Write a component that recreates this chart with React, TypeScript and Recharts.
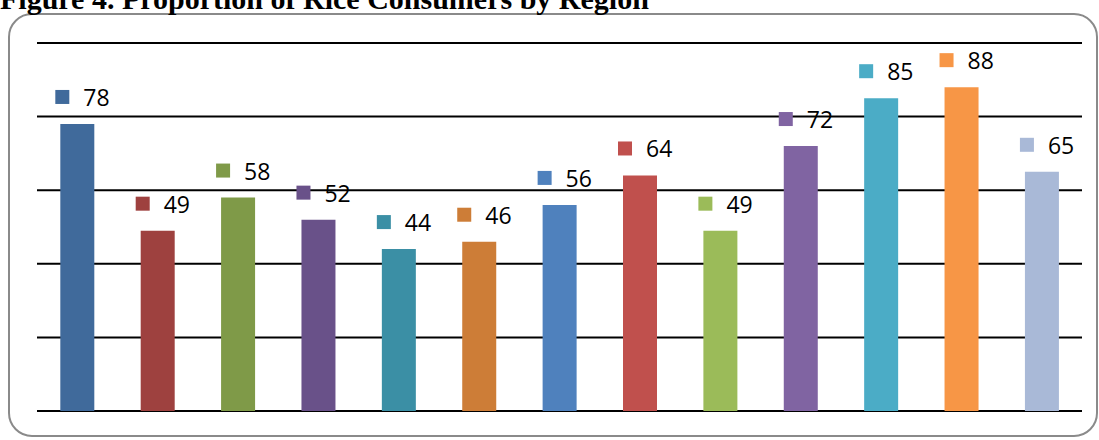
import { BarChart, Bar, XAxis, YAxis, CartesianGrid, Cell, LabelList } from "recharts";

const regions = ["R1", "R2", "R3", "R4", "R5", "R6", "R7", "R8", "R9", "R10", "R11", "R12", "R13"];
const shares = [78, 49, 58, 52, 44, 46, 56, 64, 49, 72, 85, 88, 65];
const colors = [
  "#406A9B", "#9E413F", "#7F9A48", "#695189", "#3B8FA5", "#CD7D37", "#4F81BD",
  "#C0504D", "#9BBB59", "#8064A2", "#4BACC6", "#F79646", "#A9B9D7",
];
const yTicks = [0, 20, 40, 60, 80, 100];

const data = regions.map((r, i) => ({ region: r, value: shares[i], color: colors[i] }));

function ValueLabel(props: any) {
  const { x, y, width, value, index } = props;
  const cx = x + width / 2;
  const cy = y - 27;
  return (
    <g>
      <rect x={cx - 22} y={cy - 7} width={14} height={14} fill={colors[index]} />
      <text
        x={cx + 6}
        y={cy}
        dominantBaseline="central"
        fontSize={23}
        fontFamily="'Open Sans', sans-serif"
        fill="#000"
      >
        {value}
      </text>
    </g>
  );
}

export default function App() {
  return (
    <div style={{ position: "absolute", left: 0, top: 0, width: 1099, height: 440, background: "#fff", overflow: "hidden" }}>
      <div
        style={{
          position: "absolute",
          left: 8,
          top: 13,
          width: 1086,
          height: 420,
          border: "2px solid #8a8a8a",
          borderRadius: 24,
        }}
      />
      <div
        style={{
          position: "absolute",
          left: 0,
          top: -16,
          fontFamily: "'Liberation Serif', serif",
          fontWeight: "bold",
          fontSize: 30,
          lineHeight: "30px",
          whiteSpace: "nowrap",
        }}
      >
        Figure 4. Proportion of Rice Consumers by Region
      </div>
      <div style={{ position: "absolute", left: 0, top: 0 }}>
        <BarChart
          width={1099}
          height={440}
          data={data}
          margin={{ top: 43, right: 17, bottom: 29, left: 37 }}
          barCategoryGap="29%"
        >
          <CartesianGrid vertical={false} stroke="#000" strokeWidth={2} />
          <XAxis dataKey="region" hide />
          <YAxis
            domain={[0, 100]}
            ticks={yTicks}
            width={0}
            tick={() => <g />}
            axisLine={false}
            tickLine={false}
          />
          <Bar dataKey="value" isAnimationActive={false}>
            {data.map((d) => (
              <Cell key={d.region} fill={d.color} />
            ))}
            <LabelList dataKey="value" content={ValueLabel} />
          </Bar>
        </BarChart>
      </div>
    </div>
  );
}
